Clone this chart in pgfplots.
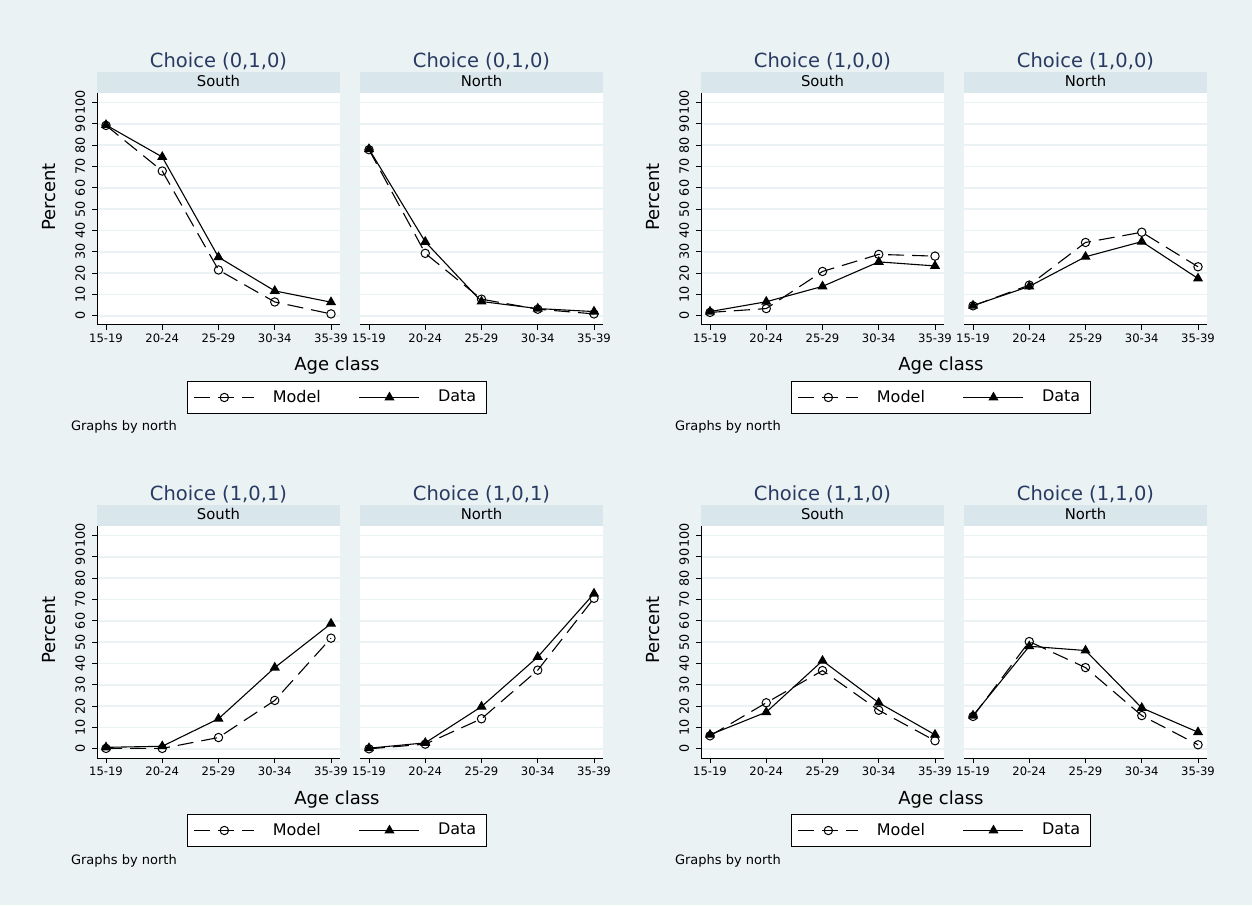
\documentclass[border=0pt]{standalone}
\usepackage{fontspec}
\setmainfont{DejaVu Sans}
\usepackage{pgfplots}
\pgfplotsset{compat=1.18}
\definecolor{bg}{HTML}{EAF2F3}
\definecolor{strip}{HTML}{D9E6EB}
\definecolor{ttl}{HTML}{283A62}
\newcommand{\titlefont}{\fontsize{9.75}{11}\selectfont}
\newcommand{\stripfont}{\fontsize{7.4}{9}\selectfont}
\newcommand{\labfont}{\fontsize{9}{10}\selectfont}
\newcommand{\tickfont}{\fontsize{5.8}{6.5}\selectfont}
\newcommand{\ytickfont}{\fontsize{6.4}{7}\selectfont}
\newcommand{\legfont}{\fontsize{8}{9}\selectfont}
\newcommand{\notefont}{\fontsize{6.5}{7.5}\selectfont}

\pgfplotsset{
  panel/.style={
    scale only axis, width=121.5pt, height=116pt, anchor=south west,
    xmin=-0.16, xmax=4.16, ymin=-4.3, ymax=104.5,
    xtick={0,1,2,3,4}, xticklabels={15-19,20-24,25-29,30-34,35-39},
    ytick={0,10,...,100},
    axis background/.style={fill=white},
    axis x line*=bottom, axis y line*=left,
    axis line style={line width=0.5pt,-},
    ymajorgrids, grid style={draw=bg, line width=0.8pt},
    tick align=outside, major tick length=2.5pt,
    every tick/.style={black, line width=0.5pt},
    xticklabel style={font=\tickfont, yshift=1.5pt},
    yticklabel style={font=\ytickfont, rotate=90, anchor=south},
    /pgf/number format/assume math mode=true,
  },
  south/.style={panel,
    legend columns=2,
    legend style={at={(0.9877,-0.3125)}, anchor=center, draw=black,
      line width=0.5pt, fill=white, font=\legfont,
      /tikz/every odd column/.append style={column sep=7pt},
      /tikz/every even column/.append style={column sep=17pt}},
    legend image code/.code={\draw[mark repeat=2,mark phase=2,##1]
      plot coordinates {(0pt,0pt) (15pt,0pt) (30pt,0pt)};},
  },
  north/.style={panel, yticklabels={}, ytick style={draw=none},
    y axis line style={draw=none}},
  model/.style={black, line width=0.55pt, dash pattern=on 8pt off 4pt,
    mark=o, mark size=2.1pt, mark options={solid, line width=0.5pt}},
  data/.style={black, line width=0.55pt, mark=triangle*, mark size=2.4pt,
    mark options={solid}},
}

% decorations of one combined graph, in pixels of the top-left one
\newcommand{\decor}[1]{%
  \fill[strip] (97,812) rectangle (340,833);
  \fill[strip] (360,812) rectangle (603,833);
  \node[font=\titlefont, text=ttl, anchor=base] at (218.5,837) {#1};
  \node[font=\titlefont, text=ttl, anchor=base] at (481.5,837) {#1};
  \node[font=\stripfont, anchor=base] at (218.5,818.5) {South};
  \node[font=\stripfont, anchor=base] at (481.5,818.5) {North};
  \node[font=\labfont, rotate=90] at (49,708) {Percent};
  \node[font=\labfont, anchor=base] at (337,534) {Age class};
  \node[font=\notefont, anchor=base west] at (64,474) {Graphs by north};
}

\begin{document}
\begin{tikzpicture}
\begin{scope}[x=0.5pt,y=0.5pt]
\fill[bg] (0,0) rectangle (1252,905);
\decor{Choice (0,1,0)}
\begin{scope}[shift={(604,0)}]\decor{Choice (1,0,0)}\end{scope}
\begin{scope}[shift={(0,-433)}]\decor{Choice (1,0,1)}\end{scope}
\begin{scope}[shift={(604,-433)}]\decor{Choice (1,1,0)}\end{scope}
\end{scope}

% Choice (0,1,0)
\begin{axis}[south, at={(48.5pt,290pt)}]
\addplot[model] coordinates {(0,89.3) (1,67.9) (2,21.5) (3,6.5) (4,0.9)};
\addplot[data] coordinates {(0,89.5) (1,74.5) (2,27.5) (3,11.7) (4,6.4)};
\legend{Model,Data}
\end{axis}
\begin{axis}[north, at={(180pt,290pt)}]
\addplot[model] coordinates {(0,77.9) (1,29.3) (2,7.8) (3,3.1) (4,0.9)};
\addplot[data] coordinates {(0,78.2) (1,34.7) (2,6.7) (3,3.4) (4,2.0)};
\end{axis}

% Choice (1,0,0)
\begin{axis}[south, at={(350.5pt,290pt)}]
\addplot[model] coordinates {(0,1.6) (1,3.4) (2,20.8) (3,28.8) (4,28.0)};
\addplot[data] coordinates {(0,2.0) (1,6.6) (2,13.8) (3,25.3) (4,23.4)};
\legend{Model,Data}
\end{axis}
\begin{axis}[north, at={(482pt,290pt)}]
\addplot[model] coordinates {(0,4.7) (1,14.4) (2,34.4) (3,39.2) (4,23.0)};
\addplot[data] coordinates {(0,4.8) (1,13.8) (2,27.7) (3,34.8) (4,17.5)};
\end{axis}

% Choice (1,0,1)
\begin{axis}[south, at={(48.5pt,73.5pt)}]
\addplot[model] coordinates {(0,0.2) (1,0.2) (2,5.3) (3,22.7) (4,51.9)};
\addplot[data] coordinates {(0,0.7) (1,1.2) (2,14.1) (3,38.1) (4,58.7)};
\legend{Model,Data}
\end{axis}
\begin{axis}[north, at={(180pt,73.5pt)}]
\addplot[model] coordinates {(0,0.0) (1,2.2) (2,14.1) (3,36.9) (4,70.6)};
\addplot[data] coordinates {(0,0.3) (1,2.8) (2,19.8) (3,43.1) (4,72.8)};
\end{axis}

% Choice (1,1,0)
\begin{axis}[south, at={(350.5pt,73.5pt)}]
\addplot[model] coordinates {(0,6.1) (1,21.6) (2,36.7) (3,18.1) (4,3.8)};
\addplot[data] coordinates {(0,6.6) (1,17.2) (2,41.3) (3,21.6) (4,6.6)};
\legend{Model,Data}
\end{axis}
\begin{axis}[north, at={(482pt,73.5pt)}]
\addplot[model] coordinates {(0,15.2) (1,50.3) (2,38.1) (3,15.6) (4,1.9)};
\addplot[data] coordinates {(0,15.6) (1,48.1) (2,46.1) (3,19.2) (4,7.8)};
\end{axis}
\end{tikzpicture}
\end{document}
